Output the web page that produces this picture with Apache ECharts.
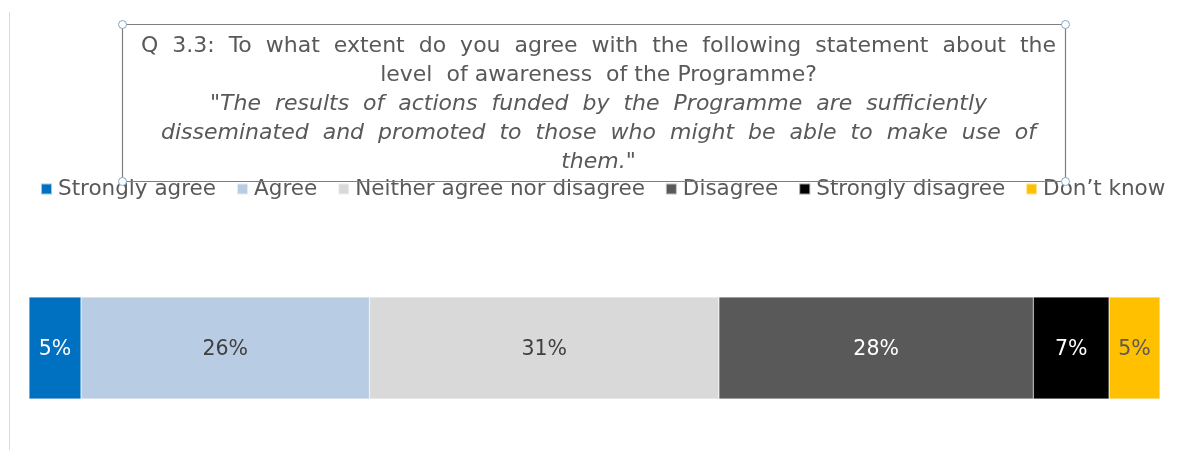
<!DOCTYPE html>
<html>
<head>
<meta charset="utf-8">
<script src="https://cdn.jsdelivr.net/npm/echarts@6/dist/echarts.min.js"></script>
<style>
  html, body {margin: 0; padding: 0; background: #fff;}
  #chart {width: 1184px; height: 450px;}
</style>
</head>
<body>
<div id="chart"></div>
<script>
const categories = ['Q 3.3']
const seriesNames = ['Strongly agree', 'Agree', 'Neither agree nor disagree', 'Disagree', 'Strongly disagree', 'Don\u2019t know']
const seriesValues = [4.6, 25.5, 30.9, 27.8, 6.7, 4.5]
const seriesColors = ['#0070C0', '#B8CCE4', '#D9D9D9', '#595959', '#000000', '#FFC000']
const labelColors = ['#ffffff', '#404040', '#404040', '#ffffff', '#ffffff', '#595959']
// [text, italic, justified]
const titleLines = [
  ['Q 3.3: To what extent do you agree with the following  statement about the', false, true],
  ['level  of awareness  of the Programme?', false, false],
  ['"The results of actions funded by the Programme are sufficiently', true, true],
  ['disseminated and promoted to those who might be able to make use of', true, true],
  ['them."', true, false]
]

const font = '"DejaVu Sans", Verdana, sans-serif'
const total = seriesValues.reduce((a, b) => a + b, 0)

// poor man's justify: widen the word gaps of wrapped lines
const titleText = titleLines.map(([t, it, just]) =>
  '{' + (it ? 'i' : 'n') + '|' + (just ? t.replace(/ +/g, '  ') : t) + '}'
).join('\n')

const box = {x: 122, y: 24, w: 943, h: 157}
const handles = [[box.x, box.y], [box.x + box.w, box.y], [box.x, box.y + box.h], [box.x + box.w, box.y + box.h]]

const chart = echarts.init(document.getElementById('chart'))
chart.setOption({
  animation: false,
  title: {
    text: titleText,
    left: box.x + box.w / 2,
    top: 27,
    textAlign: 'center',
    textStyle: {
      rich: {
        n: {fontFamily: font, fontSize: 22, fontWeight: 'normal', color: '#595959', lineHeight: 29},
        i: {fontFamily: font, fontSize: 22, fontWeight: 'normal', color: '#595959', fontStyle: 'italic', lineHeight: 29}
      }
    }
  },
  legend: {
    top: 173,
    left: 35,
    itemWidth: 11,
    itemHeight: 11,
    itemGap: 20,
    icon: 'rect',
    textStyle: {fontFamily: font, fontSize: 21.5, color: '#595959', padding: [0, 0, 0, 1]},
    data: seriesNames
  },
  grid: {left: 29, right: 24, top: 297, height: 102},
  xAxis: {type: 'value', min: 0, max: total, show: false},
  yAxis: {type: 'category', data: categories, show: false},
  graphic: [
    {type: 'line', shape: {x1: 9.5, y1: 12, x2: 9.5, y2: 450}, style: {stroke: '#d9d9d9', lineWidth: 1}},
    {type: 'rect', shape: {x: box.x + 0.5, y: box.y + 0.5, width: box.w, height: box.h},
      style: {fill: 'none', stroke: '#7f7f7f', lineWidth: 1.2}, z: 10},
    ...handles.map(([cx, cy]) => ({
      type: 'circle', shape: {cx: cx + 0.5, cy: cy + 0.5, r: 4},
      style: {fill: '#ffffff', stroke: '#7fa7c9', lineWidth: 1}, z: 11
    }))
  ],
  series: seriesNames.map((name, i) => ({
    name,
    type: 'bar',
    stack: 'total',
    barWidth: 102,
    data: [seriesValues[i]],
    itemStyle: {color: seriesColors[i], borderColor: 'rgba(255,255,255,0.6)', borderWidth: 0.5},
    label: {
      show: true,
      position: 'inside',
      offset: [0, 2],
      fontFamily: font,
      fontSize: 20.5,
      color: labelColors[i],
      formatter: p => Math.round(p.value) + '%'
    }
  }))
})
</script>
</body>
</html>
